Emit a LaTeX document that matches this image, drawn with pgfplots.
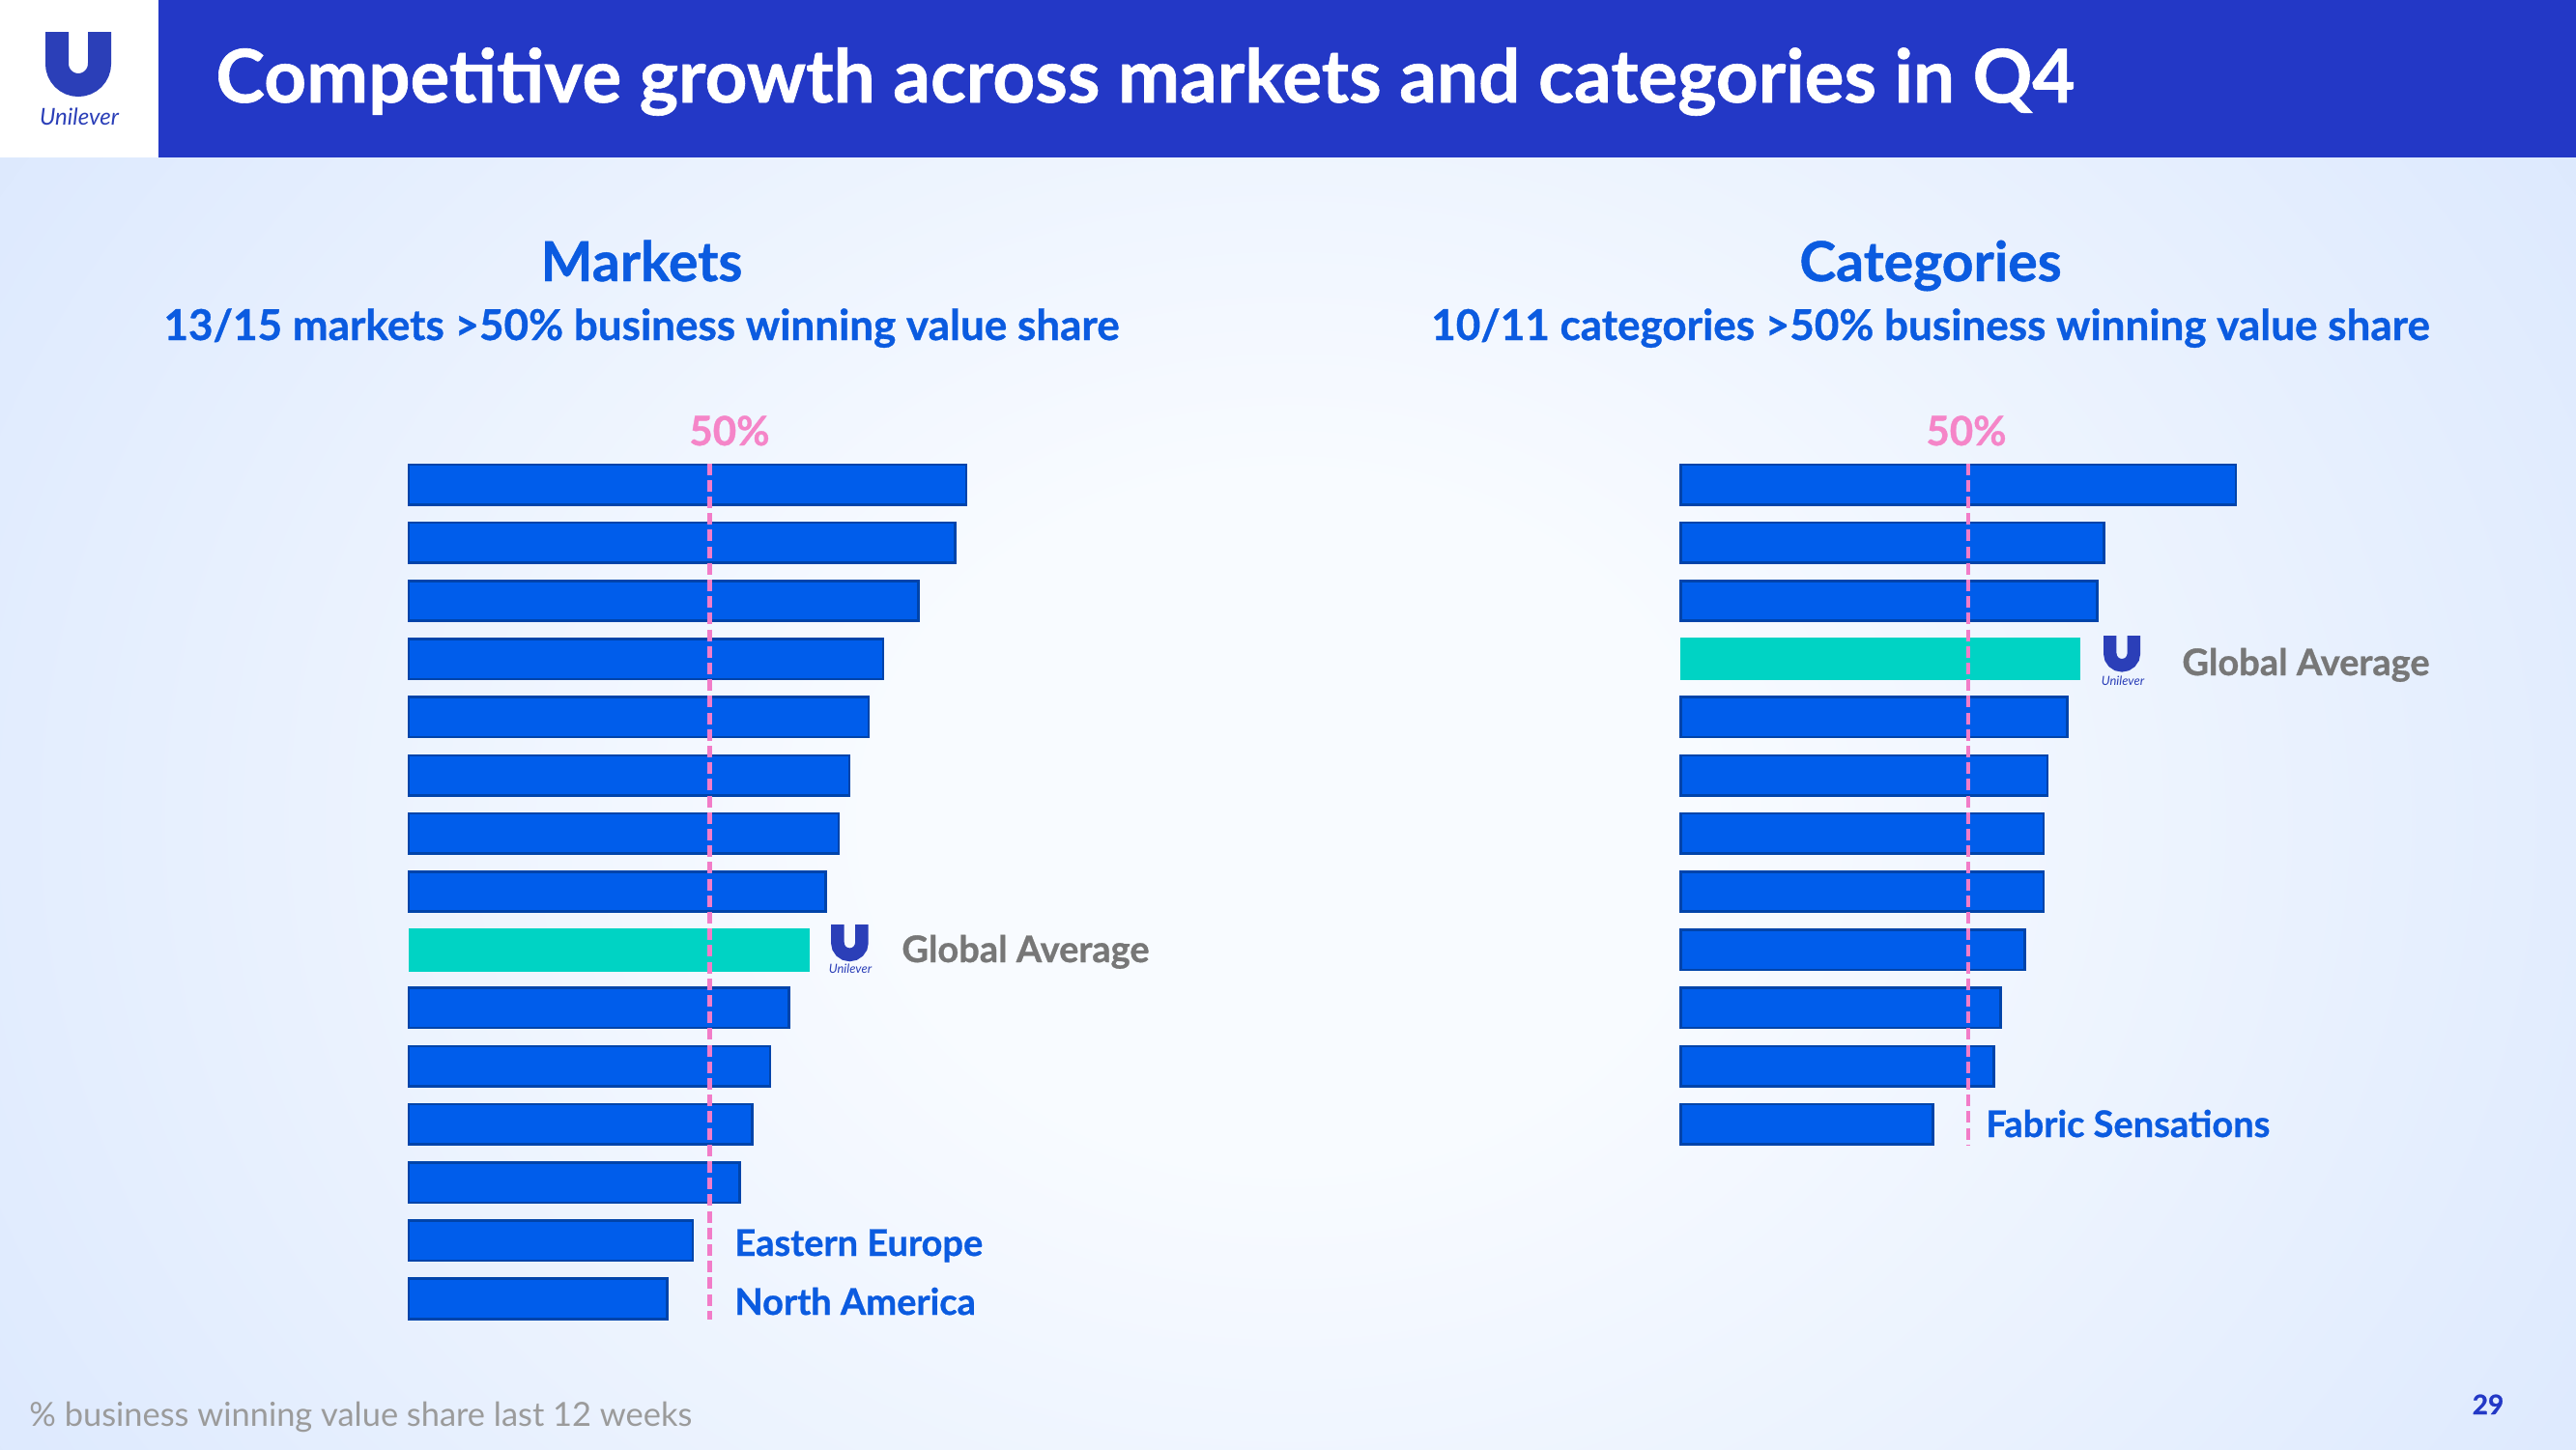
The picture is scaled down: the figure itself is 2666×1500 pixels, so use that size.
\documentclass[border=0pt]{standalone}
\usepackage{fontspec}
\setmainfont{Lato}[BoldFeatures={FakeBold=0.8}]
\usepackage{pgfplots}
\pgfplotsset{compat=1.18}

\definecolor{titlebar}{HTML}{2338C6}
\definecolor{textblue}{HTML}{0B5BE0}
\definecolor{barblue}{HTML}{005DEB}
\definecolor{baredge}{HTML}{0044AA}
\definecolor{avggreen}{HTML}{00D3C4}
\definecolor{pinkline}{HTML}{F27CC8}
\definecolor{pinktext}{HTML}{F585C8}
\definecolor{labelgray}{HTML}{777777}
\definecolor{notegray}{HTML}{9B9B9B}
\definecolor{logoblue}{HTML}{2B3FB8}
\definecolor{bgin}{HTML}{F8FBFF}
\definecolor{bgout}{HTML}{C3D8FC}

\pgfdeclareradialshading{bgshade}{\pgfpoint{0bp}{0bp}}{color(0bp)=(bgin); color(8bp)=(bgin); color(50bp)=(bgout); color(80bp)=(bgout)}

% U of the logo: x, y, scale, line width
\newcommand{\ulogoU}[4]{%
  \begin{scope}[shift={(#1,#2)}, scale=#3]
    \draw[logoblue, line width=#4] (12,0) -- (12,33) arc[start angle=180, end angle=0, radius=22] -- (56,0);
  \end{scope}}

\begin{document}
\begin{tikzpicture}[x=0.5pt,y=-0.5pt]
% background
\fill[white] (0,0) rectangle (2666,1500);
\begin{scope}
  \clip (0,163) rectangle (2666,1500);
  \shade[shading=bgshade] (0,-250) rectangle (2666,1950);
\end{scope}
\fill[titlebar] (164,0) rectangle (2666,163);
\node[anchor=base west, text=white, inner sep=0, font=\bfseries\fontsize{38.2}{42}\selectfont] at (223,106) {Competitive growth across markets and categories in Q4};

% logos
\ulogoU{47}{33}{1}{12pt}
\node[anchor=base, text=logoblue, inner sep=0, font=\itshape\fontsize{12}{14}\selectfont] at (82,129) {Unilever};
\ulogoU{860}{957}{0.57}{6.8pt}
\node[anchor=base, text=logoblue, inner sep=0, font=\itshape\fontsize{6.5}{8}\selectfont] at (880,1007) {Unilever};
\ulogoU{2177}{658}{0.56}{6.7pt}
\node[anchor=base, text=logoblue, inner sep=0, font=\itshape\fontsize{6.5}{8}\selectfont] at (2197,709) {Unilever};

% headings
\node[anchor=base, text=textblue, inner sep=0, font=\bfseries\fontsize{28.5}{32}\selectfont] at (664,291) {Markets};
\node[anchor=base, text=textblue, inner sep=0, font=\bfseries\fontsize{28.5}{32}\selectfont] at (1998,291) {Categories};
\node[anchor=base, text=textblue, inner sep=0, font=\bfseries\fontsize{22}{25}\selectfont] at (664,352) {13/15 markets >50\% business winning value share};
\node[anchor=base, text=textblue, inner sep=0, font=\bfseries\fontsize{22}{25}\selectfont] at (1998,352) {10/11 categories >50\% business winning value share};
\node[anchor=base, text=pinktext, inner sep=0, font=\bfseries\fontsize{21}{24}\selectfont] at (755,461) {50\%};
\node[anchor=base, text=pinktext, inner sep=0, font=\bfseries\fontsize{21}{24}\selectfont] at (2035,461) {50\%};

% markets
\begin{axis}[at={(211.5pt,-687.25pt)}, anchor=south west, scale only axis,
  width=311.5pt, height=451.5pt,
  xmin=0, xmax=100, ymin=0.5, ymax=15.5, y dir=reverse,
  hide axis, clip=false]
\addplot[xbar, bar width=0.69, bar shift=0pt, fill=barblue, draw=baredge, line width=1.3pt]
  coordinates {(92.6,1) (90.8,2) (84.7,3) (78.8,4) (76.4,5) (73.2,6) (71.4,7) (69.3,8)
               (63.2,10) (60.0,11) (57.1,12) (55.0,13) (47.2,14) (42.9,15)};
\addplot[xbar, bar width=0.74, bar shift=0pt, fill=avggreen, draw=none]
  coordinates {(66.6,9)};
\addplot[pinkline, line width=2.3pt, dash pattern=on 6pt off 2.6pt]
  coordinates {(50,0.635) (50,15.365)};
\end{axis}

% categories
\begin{axis}[at={(869.7pt,-596.95pt)}, anchor=south west, scale only axis,
  width=297.5pt, height=361.2pt,
  xmin=0, xmax=100, ymin=0.5, ymax=12.5, y dir=reverse,
  hide axis, clip=false]
\addplot[xbar, bar width=0.69, bar shift=0pt, fill=barblue, draw=baredge, line width=1.3pt]
  coordinates {(96.6,1) (73.6,2) (72.4,3) (67.2,5) (63.8,6) (63.1,7) (63.1,8)
               (59.8,9) (55.6,10) (54.5,11) (43.9,12)};
\addplot[xbar, bar width=0.74, bar shift=0pt, fill=avggreen, draw=none]
  coordinates {(69.5,4)};
\addplot[pinkline, line width=2.3pt, dash pattern=on 6pt off 2.6pt]
  coordinates {(50,0.635) (50,12.365)};
\end{axis}

% labels
\node[anchor=base west, text=labelgray, inner sep=0, font=\bfseries\fontsize{19}{22}\selectfont] at (933,996) {Global Average};
\node[anchor=base west, text=labelgray, inner sep=0, font=\bfseries\fontsize{19}{22}\selectfont] at (2258,699) {Global Average};
\node[anchor=base west, text=textblue, inner sep=0, font=\bfseries\fontsize{19}{22}\selectfont] at (760,1300) {Eastern Europe};
\node[anchor=base west, text=textblue, inner sep=0, font=\bfseries\fontsize{19}{22}\selectfont] at (760,1361) {North America};
\node[anchor=base west, text=textblue, inner sep=0, font=\bfseries\fontsize{19}{22}\selectfont] at (2055,1177) {Fabric Sensations};

\node[anchor=base west, text=notegray, inner sep=0, font=\fontsize{17.2}{20}\selectfont] at (30,1476) {\% business winning value share last 12 weeks};
\node[anchor=base, text=titlebar, inner sep=0, font=\bfseries\fontsize{14}{16}\selectfont] at (2575,1464) {29};

\pgfresetboundingbox
\useasboundingbox (0,0) rectangle (2666,1500);
\end{tikzpicture}
\end{document}
